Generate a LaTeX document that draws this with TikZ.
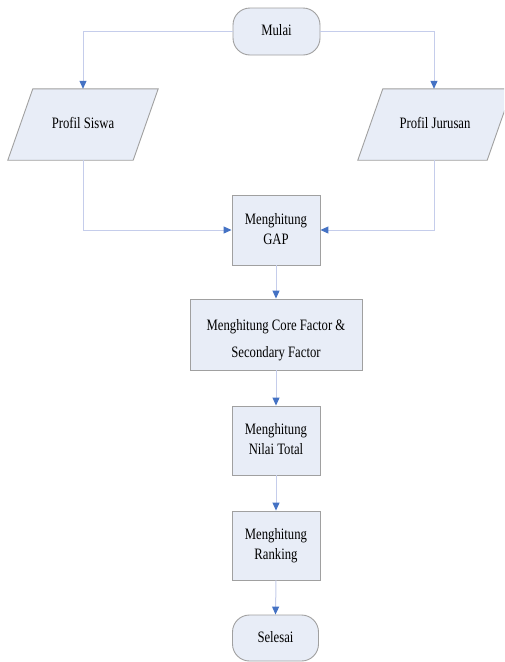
\documentclass[tikz,border=0pt]{standalone}
\usepackage{fontspec}
\setmainfont{Liberation Serif}
\usetikzlibrary{arrows.meta}
\definecolor{boxfill}{HTML}{E8EDF7}
\definecolor{boxline}{HTML}{A0A0A0}
\definecolor{conline}{HTML}{C5CDEB}
\definecolor{tipblue}{HTML}{4472C4}
\newcommand{\sttext}[2][16pt]{\scalebox{1}[1.25]{\fontsize{12.7}{#1}\selectfont\begin{tabular}{@{}c@{}}#2\end{tabular}}}
\tikzset{
  base/.style={fill=boxfill, draw=boxline, line width=0.9pt, inner sep=0pt, align=center},
  terminal/.style={base, rounded corners=17pt, minimum width=87pt, minimum height=47pt},
  procbox/.style={base, minimum width=88pt, minimum height=70pt},
  iolabel/.style={inner sep=0pt, align=center, minimum height=71pt},
  para/.style={fill=boxfill, draw=boxline, line width=0.9pt},
  conn/.style={draw=conline, line width=1pt, -{Triangle[width=7pt,length=8pt,fill=tipblue,color=tipblue]}}
}
\begin{document}
\begin{tikzpicture}[x=1pt,y=-1pt]
\clip (0,0) rectangle (504,662);
\fill[white] (0,0) rectangle (504,662);
\node[terminal] (mulai) at (276.5,31.5) {\sttext{Mulai}};
% Profil Siswa
\node[iolabel, minimum width=125pt] (ps) at (83,124.5) {};
\draw[para] ([xshift=-12.5pt]ps.south west) -- ([xshift=-12.5pt]ps.south east) -- ([xshift=12.5pt]ps.north east) -- ([xshift=12.5pt]ps.north west) -- cycle;
\node[iolabel, minimum width=125pt] at (ps) {\sttext{Profil Siswa}};
% Profil Jurusan
\node[iolabel, minimum width=129pt] (pj) at (435,124.5) {};
\draw[para] ([xshift=-12.5pt]pj.south west) -- ([xshift=-12.5pt]pj.south east) -- ([xshift=12.5pt]pj.north east) -- ([xshift=12.5pt]pj.north west) -- cycle;
\node[iolabel, minimum width=129pt] at (pj) {\sttext{Profil Jurusan}};
\node[procbox] (gap) at (276,230) {\sttext{Menghitung\\GAP}};
\node[procbox, minimum width=172pt, minimum height=71pt] (core) at (276,334.5) {};
\node at ([yshift=-4pt]core.center) {\sttext[21.5pt]{Menghitung Core Factor \&\\Secondary Factor}};
\node[procbox, minimum height=69pt] (nilai) at (276,440.5) {\sttext{Menghitung\\Nilai Total}};
\node[procbox, minimum height=69pt] (rank) at (276,545.5) {\sttext{Menghitung\\Ranking}};
\node[terminal, minimum width=86pt, minimum height=46pt] (selesai) at (275.5,638) {\sttext{Selesai}};
% connectors
\draw[conn] (mulai.west) -| (ps.north);
\draw[conn] (mulai.east) -| ([xshift=-1pt]pj.north);
\draw[conn] (ps.south) |- (gap.west);
\draw[conn] ([xshift=-1pt]pj.south) |- (gap.east);
\draw[conn] (gap.south) -- (core.north);
\draw[conn] (core.south) -- (nilai.north);
\draw[conn] (nilai.south) -- (rank.north);
\draw[conn] (rank.south) -- (selesai.north);
\end{tikzpicture}
\end{document}
